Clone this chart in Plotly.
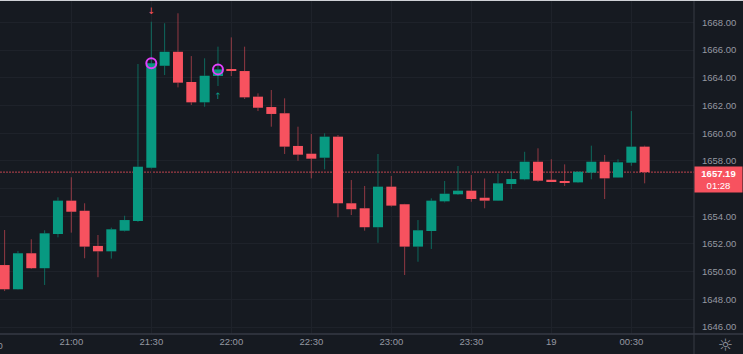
import plotly.graph_objects as go

# ---------------- data ----------------
times = [
    "2024-01-18 20:35", "2024-01-18 20:40", "2024-01-18 20:45", "2024-01-18 20:50", "2024-01-18 20:55",
    "2024-01-18 21:00", "2024-01-18 21:05", "2024-01-18 21:10", "2024-01-18 21:15", "2024-01-18 21:20",
    "2024-01-18 21:25", "2024-01-18 21:30", "2024-01-18 21:35", "2024-01-18 21:40", "2024-01-18 21:45",
    "2024-01-18 21:50", "2024-01-18 21:55", "2024-01-18 22:00", "2024-01-18 22:05", "2024-01-18 22:10",
    "2024-01-18 22:15", "2024-01-18 22:20", "2024-01-18 22:25", "2024-01-18 22:30", "2024-01-18 22:35",
    "2024-01-18 22:40", "2024-01-18 22:45", "2024-01-18 22:50", "2024-01-18 22:55", "2024-01-18 23:00",
    "2024-01-18 23:05", "2024-01-18 23:10", "2024-01-18 23:15", "2024-01-18 23:20", "2024-01-18 23:25",
    "2024-01-18 23:30", "2024-01-18 23:35", "2024-01-18 23:40", "2024-01-18 23:45", "2024-01-18 23:50",
    "2024-01-18 23:55", "2024-01-19 00:00", "2024-01-19 00:05", "2024-01-19 00:10", "2024-01-19 00:15",
    "2024-01-19 00:20", "2024-01-19 00:25", "2024-01-19 00:30", "2024-01-19 00:35",
]
opens = [
    1650.48, 1648.73, 1651.33, 1650.25, 1652.72, 1655.13, 1654.40, 1651.86, 1651.47, 1652.96,
    1653.66, 1657.51, 1664.87, 1665.88, 1663.70, 1662.23, 1664.13, 1664.61, 1664.49, 1662.64,
    1661.89, 1661.44, 1659.08, 1658.52, 1658.23, 1659.75, 1654.94, 1654.58, 1653.21, 1656.14,
    1654.87, 1651.81, 1652.94, 1655.08, 1655.59, 1655.85, 1655.34, 1655.13, 1656.33, 1656.67,
    1657.94, 1656.64, 1656.55, 1656.45, 1657.15, 1657.94, 1656.80, 1657.87, 1659.03,
]
highs = [
    1653.01, 1651.50, 1652.34, 1652.99, 1655.37, 1656.82, 1654.94, 1652.65, 1653.18, 1654.04,
    1665.00, 1668.05, 1667.94, 1668.66, 1665.57, 1665.41, 1666.25, 1666.92, 1666.25, 1662.88,
    1663.12, 1662.52, 1660.47, 1659.94, 1659.99, 1659.87, 1656.62, 1656.19, 1658.50, 1656.91,
    1654.90, 1653.73, 1655.30, 1656.55, 1657.63, 1656.98, 1656.73, 1657.09, 1657.22, 1658.66,
    1658.91, 1658.12, 1657.75, 1657.25, 1659.10, 1658.43, 1658.12, 1661.60, 1659.10,
]
lows = [
    1648.60, 1648.70, 1650.20, 1649.04, 1652.48, 1652.82, 1650.97, 1649.60, 1650.94, 1652.90,
    1653.60, 1657.45, 1664.20, 1663.31, 1662.04, 1661.91, 1663.41, 1664.13, 1662.47, 1661.60,
    1660.47, 1658.50, 1658.01, 1656.74, 1657.39, 1653.93, 1654.09, 1652.96, 1652.09, 1654.70,
    1649.76, 1650.72, 1651.64, 1655.00, 1655.54, 1655.05, 1654.58, 1655.10, 1655.97, 1656.60,
    1656.50, 1656.48, 1656.19, 1656.40, 1656.67, 1655.25, 1656.78, 1657.65, 1656.38,
]
closes = [
    1648.73, 1651.33, 1650.25, 1652.77, 1655.13, 1654.33, 1651.81, 1651.47, 1653.06, 1653.73,
    1657.58, 1665.05, 1665.88, 1663.65, 1662.23, 1664.15, 1664.61, 1664.51, 1662.59, 1661.84,
    1661.39, 1659.03, 1658.45, 1658.16, 1659.75, 1654.94, 1654.51, 1653.21, 1656.14, 1654.77,
    1651.81, 1652.99, 1655.13, 1655.63, 1655.85, 1655.25, 1655.13, 1656.38, 1656.69, 1657.94,
    1656.57, 1656.50, 1656.43, 1657.22, 1657.94, 1656.74, 1657.90, 1659.03, 1657.19,
]

price_ticks = [1646, 1648, 1650, 1652, 1654, 1656, 1658, 1660, 1662, 1664, 1666, 1668]
time_tick_vals = ["2024-01-18 21:00", "2024-01-18 21:30", "2024-01-18 22:00", "2024-01-18 22:30",
                  "2024-01-18 23:00", "2024-01-18 23:30", "2024-01-19 00:00", "2024-01-19 00:30"]
time_tick_text = ["21:00", "21:30", "22:00", "22:30", "23:00", "23:30", "19", "00:30"]
offscreen_tick_text = "20:30"

trade_times = ["2024-01-18 21:30", "2024-01-18 21:55"]
trade_prices = [1665.05, 1664.61]
sell_signal_time = ["2024-01-18 21:30"]
sell_signal_price = [1668.75]
buy_signal_time = ["2024-01-18 21:55"]
buy_signal_price = [1662.65]

last_price = 1657.19
countdown = "01:28"

# ---------------- style ----------------
BG = "#161a21"
GRID = "#1e222a"
TXT = "#9598a1"
UP = "#089981"
DOWN = "#f7525f"
UP_WICK = "rgba(8,153,129,0.62)"
DOWN_WICK = "rgba(247,82,95,0.55)"
SEP = "#363a44"
FONT = "Liberation Sans"

W, H = 743, 354
PL, PR, PT, PB = 0, 49, 0, 20
PW, PH = W - PL - PR, H - PT - PB

fig = go.Figure()

# bodies
body_base = [min(o, c) for o, c in zip(opens, closes)]
body_h = [abs(c - o) for o, c in zip(opens, closes)]
body_col = [UP if c >= o else DOWN for o, c in zip(opens, closes)]
fig.add_trace(go.Bar(x=times, y=body_h, base=body_base, width=225000,
                     marker=dict(color=body_col, line=dict(width=0)),
                     hoverinfo="skip"))

# wicks (upper and lower parts, per colour)
for want_up, col in [(True, UP_WICK), (False, DOWN_WICK)]:
    wx, wy = [], []
    for t, o, h, l, c in zip(times, opens, highs, lows, closes):
        if (c >= o) != want_up:
            continue
        top, bot = max(o, c), min(o, c)
        wx += [t, t, None, t, t, None]
        wy += [top, h, None, l, bot, None]
    fig.add_trace(go.Scatter(x=wx, y=wy, mode="lines", line=dict(color=col, width=1),
                             hoverinfo="skip", connectgaps=False))

# trade markers
fig.add_trace(go.Scatter(x=trade_times, y=trade_prices, mode="markers",
                         marker=dict(symbol="circle-open", size=10, color="#e040fb",
                                     line=dict(width=2, color="#e040fb")),
                         hoverinfo="skip"))
fig.add_trace(go.Scatter(x=sell_signal_time, y=sell_signal_price, mode="text", text=["↓"],
                         textfont=dict(color=DOWN, size=9, family="DejaVu Sans"), hoverinfo="skip"))
fig.add_trace(go.Scatter(x=buy_signal_time, y=buy_signal_price, mode="text", text=["↑"],
                         textfont=dict(color=UP, size=9, family="DejaVu Sans"), hoverinfo="skip"))

shapes = [
    dict(type="line", xref="paper", yref="y", x0=0, x1=1, y0=last_price, y1=last_price,
         line=dict(color="rgba(247,82,95,0.75)", width=1, dash="2px,1px"), layer="below"),
    dict(type="line", xref="paper", yref="paper", x0=0, x1=W / PW, y0=0, y1=0,
         line=dict(color=SEP, width=1.5)),
    dict(type="line", xref="paper", yref="paper", x0=1, x1=1, y0=-PB / PH, y1=1,
         line=dict(color=SEP, width=1)),
    dict(type="line", xref="paper", yref="paper", x0=0, x1=W / PW, y0=1, y1=1,
         line=dict(color="#cfd1d6", width=2)),
]

annotations = [
    dict(xref="paper", yref="paper", x=-9 / PW, y=-11 / PH, text=offscreen_tick_text,
         showarrow=False, xanchor="center", yanchor="middle",
         font=dict(family=FONT, size=9.5, color=TXT)),
    dict(xref="paper", yref="y", x=1, y=last_price, yanchor="top", yshift=6, xanchor="left",
         text="<b>%.2f</b><br>%s" % (last_price, countdown), showarrow=False,
         bgcolor=DOWN, width=45, borderpad=1, align="center",
         font=dict(family=FONT, size=9.5, color="#ffffff")),
    dict(xref="paper", yref="paper", x=(725 - PL) / PW, y=-11 / PH, text="☼",
         showarrow=False, xanchor="center", yanchor="middle",
         font=dict(family="DejaVu Sans", size=17, color=TXT)),
]

fig.update_layout(
    width=W, height=H, margin=dict(l=PL, r=PR, t=PT, b=PB),
    paper_bgcolor=BG, plot_bgcolor=BG, showlegend=False, barmode="overlay",
    font=dict(family=FONT, size=9.5, color=TXT),
    shapes=shapes, annotations=annotations,
    xaxis=dict(type="date", range=["2024-01-18 20:33:16", "2024-01-19 00:53:30"],
               tickmode="array", tickvals=time_tick_vals, ticktext=time_tick_text,
               showgrid=True, gridcolor=GRID, gridwidth=1, zeroline=False, showline=False,
               ticks="", tickfont=dict(family=FONT, size=9.5, color=TXT), fixedrange=True),
    yaxis=dict(side="right", range=[1645.50, 1669.62], tickmode="array",
               tickvals=price_ticks, ticktext=["%.2f" % v for v in price_ticks],
               showgrid=True, gridcolor=GRID, gridwidth=1, zeroline=False, showline=False,
               ticks="", ticklabelstandoff=7,
               tickfont=dict(family=FONT, size=9.5, color=TXT), fixedrange=True),
)

fig.write_html("out.html")
